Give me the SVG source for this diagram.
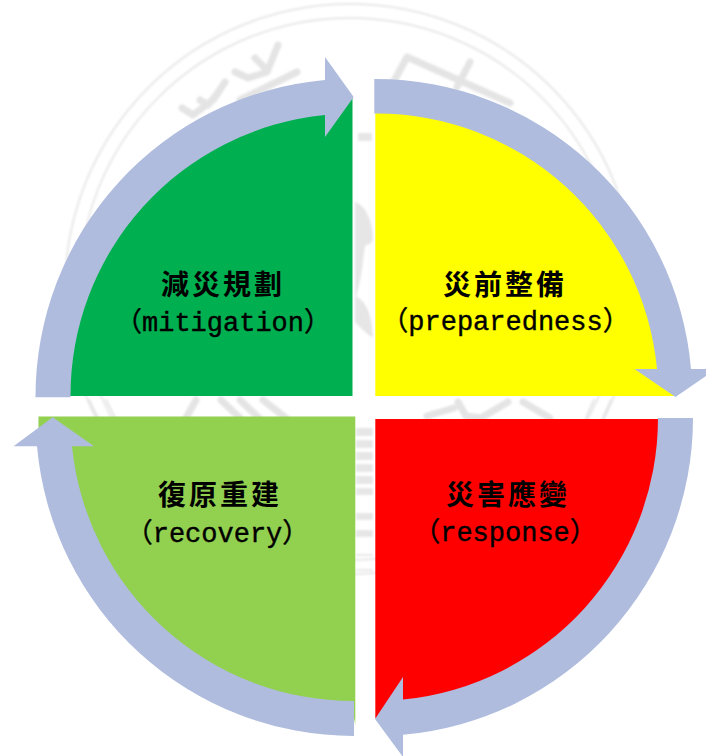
<svg xmlns="http://www.w3.org/2000/svg" width="706" height="756" viewBox="0 0 706 756">
<style>
.bg{fill:#fff}
.ring{fill:none;stroke:#e8e8e8;stroke-width:2}
.mark{fill:none;stroke:#e4e4e4;stroke-width:7;stroke-linecap:round;stroke-linejoin:round}
.thin{stroke-width:2}
.blob{fill:#e6e6e6}
.flow{fill:#afbcde}
.cjk{font-family:"Noto Sans CJK TC","Noto Sans CJK SC",sans-serif;font-size:28px;font-weight:700;letter-spacing:3px;text-anchor:middle;fill:#000}
.lat{font-family:"Liberation Mono","Noto Sans CJK TC",monospace;font-size:27px;text-anchor:middle;fill:#000;stroke:#000;stroke-width:0.4}
</style>
<defs><filter id="soft" x="-5%" y="-5%" width="110%" height="110%"><feGaussianBlur stdDeviation="0.8"/></filter></defs>
<rect class="bg" width="706" height="756"/>
<g id="watermark" filter="url(#soft)">
<circle class="ring" cx="350" cy="289" r="285"/>
<circle class="ring" cx="350" cy="289" r="271"/>
<path class="mark" d="M182,108 L193,115 L213,100 L225,82"/>
<path class="mark" d="M200,100 L208,105 L218,93"/>
<path class="mark" d="M235,72 L248,78 L267,72 L278,45"/>
<path class="mark" d="M255,58 L265,68"/>
<path class="mark" d="M240,100 L297,72"/>
<path class="mark" d="M393,83 L407,57 L510,103"/>
<path class="mark" d="M470,62 L457,87"/>
<path class="blob" d="M358,133 H372 V141 H358Z"/>
<path class="blob" d="M355,202 C366,205 373,222 373,240 L369,245 C362,240 366,262 356,298 L355,298Z"/>
<path class="blob" d="M355,296 C364,300 372,310 373,338 C364,332 358,325 355,322Z"/>
<path class="blob" d="M356,428 H373 V436 H356Z M356,440 H373 V448 H356Z M356,452 H373 V460 H356Z M356,464 H373 V472 H356Z M356,476 H373 V484 H356Z M356,488 H373 V495 H356Z M356,513 H373 V520 H356Z M356,530 H373 V537 H356Z"/>
<path class="ring" d="M356,555 H373 M356,570 H373"/>
<path class="mark thin" d="M89,400 L98,418 M106,400 L115,418 M594,400 L586,418 M611,400 L603,418"/>
<path class="mark" d="M196,400 L186,418 M221,400 L240,418 M240,400 L259,418 M263,400 L286,418 M427,416 L454,408 M458,402 L466,416 L481,418 L508,402 M523,402 L550,418"/>
</g>
<g id="mitigation">
<path fill="#00b050" d="M53,396 A300 300 0 0 1 352.5,96 V396 Z"/>
<text class="cjk" x="223" y="295">減災規劃</text>
<text class="lat" x="223" y="331">（mitigation）</text>
</g>
<g id="preparedness">
<path fill="#ffff00" d="M375.3,96 A300 300 0 0 1 675,396 H375.3 Z"/>
<text class="cjk" x="505" y="295">災前整備</text>
<text class="lat" x="505.5" y="330">（preparedness）</text>
</g>
<g id="response">
<path fill="#ff0000" d="M375.3,419 H675 A300 300 0 0 1 375.3,718 Z"/>
<text class="cjk" x="508" y="505">災害應變</text>
<text class="lat" x="505" y="541">（response）</text>
</g>
<g id="recovery">
<path fill="#92d050" d="M38.5,416.5 H355.3 V725 L354,718 A300 300 0 0 1 55,440 H38.5 Z"/>
<text class="cjk" x="220" y="505">復原重建</text>
<text class="lat" x="217.5" y="542">（recovery）</text>
</g>
<g id="connectors">
<path class="flow" d="M35.5,397.3 A318 318 0 0 1 325,80 V57 L353.7,97 L325,137 V115 A282 282 0 0 0 70.5,397.3 Z"/>
<path class="flow" d="M374.3,79 A317 317 0 0 1 691,369 H716 L675.5,397 L634.5,369 H657 A282 282 0 0 0 374.3,113.5 Z"/>
<path class="flow" d="M693,418 A318 318 0 0 1 403,734.8 V757 L375,719 L403,677 V699.6 A283 283 0 0 0 658,418 Z"/>
<path class="flow" d="M354,736 A318 318 0 0 1 37,446.3 H13.5 L52.7,417.3 L94,446.3 H72 A283 283 0 0 0 354,701 Z"/>
</g>
</svg>
